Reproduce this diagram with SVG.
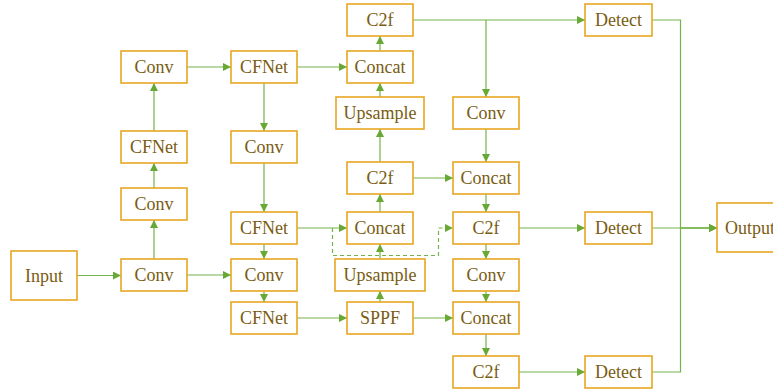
<svg xmlns="http://www.w3.org/2000/svg" width="773" height="390" viewBox="0 0 773 390">
<style>
.box{fill:#ffffff;stroke:#e8a722;stroke-width:1.6}
.lbl{font-family:'Liberation Serif',serif;font-size:18px;fill:#7a5c12;text-anchor:middle}
.ln{fill:none;stroke:#74b34a;stroke-width:1.2}
.dash{fill:none;stroke:#74b34a;stroke-width:1.2;stroke-dasharray:4 3}
</style>
<defs>
<marker id="ah" markerUnits="userSpaceOnUse" markerWidth="9" markerHeight="9" refX="8" refY="4" orient="auto">
<path d="M0,0 L8,4 L0,8 z" fill="#68a936"/>
</marker>
</defs>
<rect width="773" height="390" fill="#ffffff"/>
<g id="connectors">
<path class="ln" d="M77,275.5 H121" marker-end="url(#ah)"/>
<path class="ln" d="M154,259 V220" marker-end="url(#ah)"/>
<path class="ln" d="M154,188 V163" marker-end="url(#ah)"/>
<path class="ln" d="M154,131 V83" marker-end="url(#ah)"/>
<path class="ln" d="M187,67 H231" marker-end="url(#ah)"/>
<path class="ln" d="M264,83 V131" marker-end="url(#ah)"/>
<path class="ln" d="M264,163 V212" marker-end="url(#ah)"/>
<path class="ln" d="M264,244 V259" marker-end="url(#ah)"/>
<path class="ln" d="M264,291 V302" marker-end="url(#ah)"/>
<path class="ln" d="M187,275 H231" marker-end="url(#ah)"/>
<path class="ln" d="M297,67 H347" marker-end="url(#ah)"/>
<path class="ln" d="M380,51 V36" marker-end="url(#ah)"/>
<path class="ln" d="M380,97 V83" marker-end="url(#ah)"/>
<path class="ln" d="M380,162 V129" marker-end="url(#ah)"/>
<path class="ln" d="M413,178 H453" marker-end="url(#ah)"/>
<path class="ln" d="M380,212 V194" marker-end="url(#ah)"/>
<path class="ln" d="M380,259 V244" marker-end="url(#ah)"/>
<path class="ln" d="M380,302 V291" marker-end="url(#ah)"/>
<path class="ln" d="M297,228 H347" marker-end="url(#ah)"/>
<path class="dash" d="M332.5,228 V255.5 H438.5 V228 H453" marker-end="url(#ah)"/>
<path class="ln" d="M297,318 H347" marker-end="url(#ah)"/>
<path class="ln" d="M413,318 H453" marker-end="url(#ah)"/>
<path class="ln" d="M413,20 H585" marker-end="url(#ah)"/>
<path class="ln" d="M486,20 V97" marker-end="url(#ah)"/>
<path class="ln" d="M486,129 V162" marker-end="url(#ah)"/>
<path class="ln" d="M486,194 V212" marker-end="url(#ah)"/>
<path class="ln" d="M486,244 V259" marker-end="url(#ah)"/>
<path class="ln" d="M486,291 V302" marker-end="url(#ah)"/>
<path class="ln" d="M486,334 V356" marker-end="url(#ah)"/>
<path class="ln" d="M519,228 H585" marker-end="url(#ah)"/>
<path class="ln" d="M519,372 H585" marker-end="url(#ah)"/>
<path class="ln" d="M652,20 H680.5 V228 H717" marker-end="url(#ah)"/>
<path class="ln" d="M652,228 H717" marker-end="url(#ah)"/>
<path class="ln" d="M652,372 H680.5 V228 H717" marker-end="url(#ah)"/>
</g>
<g id="input"><rect class="box" x="11" y="251" width="66" height="49"/><text class="lbl" x="44" y="281.5">Input</text></g>
<g id="conv1"><rect class="box" x="121" y="259" width="66" height="32"/><text class="lbl" x="154" y="281">Conv</text></g>
<g id="conv2"><rect class="box" x="121" y="188" width="66" height="32"/><text class="lbl" x="154" y="210">Conv</text></g>
<g id="cfnet1"><rect class="box" x="121" y="131" width="66" height="32"/><text class="lbl" x="154" y="153">CFNet</text></g>
<g id="conv3"><rect class="box" x="121" y="51" width="66" height="32"/><text class="lbl" x="154" y="73">Conv</text></g>
<g id="cfnet2"><rect class="box" x="231" y="51" width="66" height="32"/><text class="lbl" x="264" y="73">CFNet</text></g>
<g id="conv4"><rect class="box" x="231" y="131" width="66" height="32"/><text class="lbl" x="264" y="153">Conv</text></g>
<g id="cfnet3"><rect class="box" x="231" y="212" width="66" height="32"/><text class="lbl" x="264" y="234">CFNet</text></g>
<g id="conv5"><rect class="box" x="231" y="259" width="66" height="32"/><text class="lbl" x="264" y="281">Conv</text></g>
<g id="cfnet4"><rect class="box" x="231" y="302" width="66" height="32"/><text class="lbl" x="264" y="324">CFNet</text></g>
<g id="c2f1"><rect class="box" x="347" y="4" width="66" height="32"/><text class="lbl" x="380" y="26">C2f</text></g>
<g id="concat1"><rect class="box" x="347" y="51" width="66" height="32"/><text class="lbl" x="380" y="73">Concat</text></g>
<g id="upsample1"><rect class="box" x="336" y="97" width="88" height="32"/><text class="lbl" x="380" y="119">Upsample</text></g>
<g id="c2f2"><rect class="box" x="347" y="162" width="66" height="32"/><text class="lbl" x="380" y="184">C2f</text></g>
<g id="concat2"><rect class="box" x="347" y="212" width="66" height="32"/><text class="lbl" x="380" y="234">Concat</text></g>
<g id="upsample2"><rect class="box" x="335" y="259" width="90" height="32"/><text class="lbl" x="380" y="281">Upsample</text></g>
<g id="sppf"><rect class="box" x="347" y="302" width="66" height="32"/><text class="lbl" x="380" y="324">SPPF</text></g>
<g id="conv6"><rect class="box" x="453" y="97" width="66" height="32"/><text class="lbl" x="486" y="119">Conv</text></g>
<g id="concat3"><rect class="box" x="453" y="162" width="66" height="32"/><text class="lbl" x="486" y="184">Concat</text></g>
<g id="c2f3"><rect class="box" x="453" y="212" width="66" height="32"/><text class="lbl" x="486" y="234">C2f</text></g>
<g id="conv7"><rect class="box" x="453" y="259" width="66" height="32"/><text class="lbl" x="486" y="281">Conv</text></g>
<g id="concat4"><rect class="box" x="453" y="302" width="66" height="32"/><text class="lbl" x="486" y="324">Concat</text></g>
<g id="c2f4"><rect class="box" x="453" y="356" width="66" height="32"/><text class="lbl" x="486" y="378">C2f</text></g>
<g id="detect1"><rect class="box" x="585" y="4" width="67" height="32"/><text class="lbl" x="618.5" y="26">Detect</text></g>
<g id="detect2"><rect class="box" x="585" y="212" width="67" height="32"/><text class="lbl" x="618.5" y="234">Detect</text></g>
<g id="detect3"><rect class="box" x="585" y="356" width="67" height="32"/><text class="lbl" x="618.5" y="378">Detect</text></g>
<g id="output"><rect class="box" x="717" y="203" width="66" height="49"/><text class="lbl" x="750" y="233.5">Output</text></g>
</svg>
